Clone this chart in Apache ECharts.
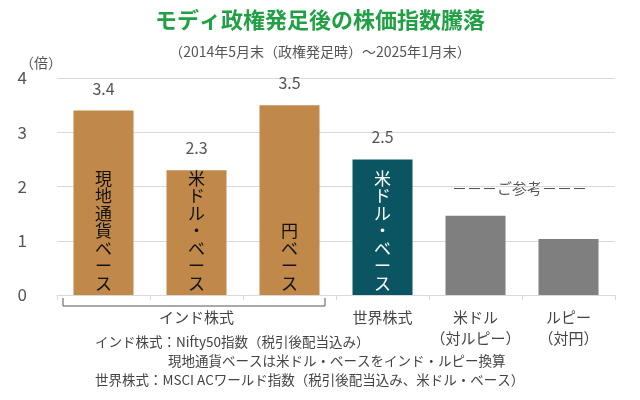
<!DOCTYPE html>
<html><head><meta charset="utf-8">
<script src="https://cdn.jsdelivr.net/npm/echarts@6/dist/echarts.min.js"></script>
<style>body{margin:0}#c{width:640px;height:400px}</style>
</head><body><div id="c"></div>
<script>
var categories = ['', 'インド株式', '', '世界株式', '米ドル\n（対ルピー）', 'ルピー\n（対円）'];
var values = [3.4, 2.3, 3.5, 2.5, 1.46, 1.03];
var valueLabels = ['3.4', '2.3', '3.5', '2.5', '', ''];
var innerLabels = ['現地通貨ベース', '米ドル・ベース', '円ベース', '米ドル・ベース', '', ''];
var colors = ['#C0894A', '#C0894A', '#C0894A', '#0B5563', '#7F7F7F', '#7F7F7F'];
var innerColors = ['#111', '#111', '#111', '#fff', '#111', '#111'];

var font = '"Noto Sans CJK JP", sans-serif';
var chart = echarts.init(document.getElementById('c'));

chart.setOption({
    textStyle: { fontFamily: font },
    title: [{
        text: 'モディ政権発足後の株価指数騰落',
        left: 'center', top: 4,
        textStyle: { color: '#22A045', fontSize: 22, fontWeight: 'bold', fontFamily: font }
    }, {
        text: '（2014年5月末（政権発足時）～2025年1月末）',
        left: 'center', top: 40,
        textStyle: { color: '#555', fontSize: 14, fontWeight: 'normal', fontFamily: font }
    }],
    grid: { left: 57, right: 25, top: 78, bottom: 105 },
    xAxis: {
        type: 'category',
        data: categories,
        axisLine: { lineStyle: { color: '#D9D9D9' } },
        axisTick: { show: true, lineStyle: { color: '#D9D9D9' } },
        axisLabel: { color: '#444', fontSize: 15, margin: 12, interval: 0, lineHeight: 21 }
    },
    yAxis: {
        type: 'value', min: 0, max: 4, interval: 1,
        name: '（倍）', nameLocation: 'end', nameGap: 8,
        nameTextStyle: { color: '#555', fontSize: 14, align: 'right', padding: [0, -5, 0, 0] },
        axisLabel: { color: '#555', fontSize: 17, margin: 30 },
        splitLine: { lineStyle: { color: '#D9D9D9' } }
    },
    series: [{
        type: 'bar',
        data: values.map(function (v, i) {
            return { value: v, itemStyle: { color: colors[i] } };
        }),
        barWidth: 60,
        label: {
            show: true, position: 'top', distance: 14,
            color: '#555', fontSize: 16,
            formatter: function (p) { return valueLabels[p.dataIndex]; }
        }
    }, {
        type: 'bar',
        data: values.map(function (v, i) {
            return { value: v, label: { color: innerColors[i] } };
        }),
        barWidth: 60,
        barGap: '-100%',
        itemStyle: { color: 'transparent' },
        silent: true,
        label: {
            show: true, position: 'insideBottom', distance: 3,
            fontSize: 17, lineHeight: 17.5,
            formatter: function (p) { return innerLabels[p.dataIndex].split('').join('\n'); }
        }
    }],
    graphic: [{
        type: 'polyline',
        shape: { points: [[63, 298], [63, 306], [325, 306], [325, 298]] },
        style: { stroke: '#555', lineWidth: 1, fill: null }
    }, {
        type: 'text', left: 452, top: 181,
        style: { text: '－－－ご参考－－－', fill: '#555', font: '15px ' + font }
    }, {
        type: 'text', left: 95, top: 335,
        style: { text: 'インド株式：Nifty50指数（税引後配当込み）', fill: '#444', font: '13.5px ' + font }
    }, {
        type: 'text', left: 168, top: 354,
        style: { text: '現地通貨ベースは米ドル・ベースをインド・ルピー換算', fill: '#444', font: '13.5px ' + font }
    }, {
        type: 'text', left: 95, top: 373,
        style: { text: '世界株式：MSCI ACワールド指数（税引後配当込み、米ドル・ベース）', fill: '#444', font: '13.5px ' + font }
    }]
});
</script></body></html>
